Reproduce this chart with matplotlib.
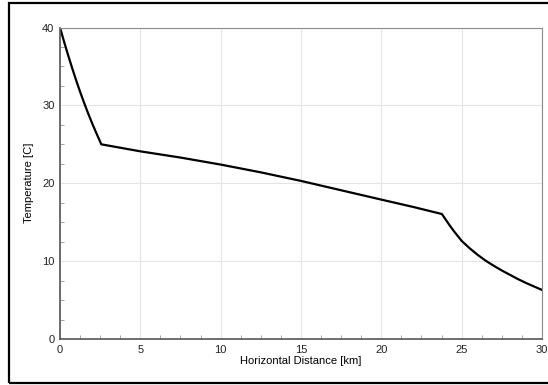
import matplotlib
matplotlib.use("Agg")
import matplotlib.pyplot as plt
from matplotlib.patches import Rectangle
from matplotlib.ticker import MultipleLocator

# values
distance_km = [0.0, 0.25, 0.5, 0.75, 1.0, 1.25, 1.5, 1.75, 2.0, 2.25, 2.57,
               5.0, 7.5, 10.0, 12.5, 15.0, 17.5, 20.0, 22.0, 23.77,
               24.25, 24.5, 25.0, 25.5, 26.0, 26.5, 27.0, 27.5, 28.0, 28.5, 29.0, 29.5, 30.0]
temperature_c = [40.0, 38.2, 36.48, 34.83, 33.25, 31.75, 30.33, 28.98, 27.7, 26.5, 25.0,
                 24.1, 23.3, 22.4, 21.4, 20.3, 19.1, 17.9, 16.95, 16.05,
                 14.6, 13.9, 12.6, 11.65, 10.8, 10.05, 9.4, 8.8, 8.25, 7.7, 7.2, 6.75, 6.3]

x_ticks = [0, 5, 10, 15, 20, 25, 30]
y_ticks = [0, 10, 20, 30, 40]

plt.rcParams["font.family"] = ["Liberation Sans", "DejaVu Sans"]

fig = plt.figure(figsize=(5.48, 3.85), dpi=100)
ax = fig.add_axes([0.1095, 0.1195, 0.8795, 0.809])

ax.plot(distance_km, temperature_c, color="black", linewidth=1.6)

ax.set_xlim(0, 30)
ax.set_ylim(0, 40)
ax.set_xticks(x_ticks)
ax.set_yticks(y_ticks)
ax.xaxis.set_minor_locator(MultipleLocator(1.25))
ax.yaxis.set_minor_locator(MultipleLocator(2.5))
ax.tick_params(which="major", length=0, labelsize=8, pad=4, colors="#222222")
ax.tick_params(which="minor", direction="in", length=3, color="#999999")
ax.grid(True, which="major", color="#e4e4e4", linewidth=0.8)
ax.set_axisbelow(True)

for side in ("top", "right"):
    ax.spines[side].set_color("#8c8c8c")
for side in ("left", "bottom"):
    ax.spines[side].set_color("#555555")
    ax.spines[side].set_linewidth(1.2)

ax.set_xlabel("Horizontal Distance [km]", fontsize=8, labelpad=1)
ax.set_ylabel("Temperature [C]", fontsize=8, labelpad=6)

# outer frame of the panel (right edge falls outside the image)
fig.patches.append(Rectangle((0.0164, 0.0052), 1.05, 0.987, transform=fig.transFigure,
                             fill=False, edgecolor="black", linewidth=1.6, clip_on=False))

fig.savefig("out.png", dpi=100)
